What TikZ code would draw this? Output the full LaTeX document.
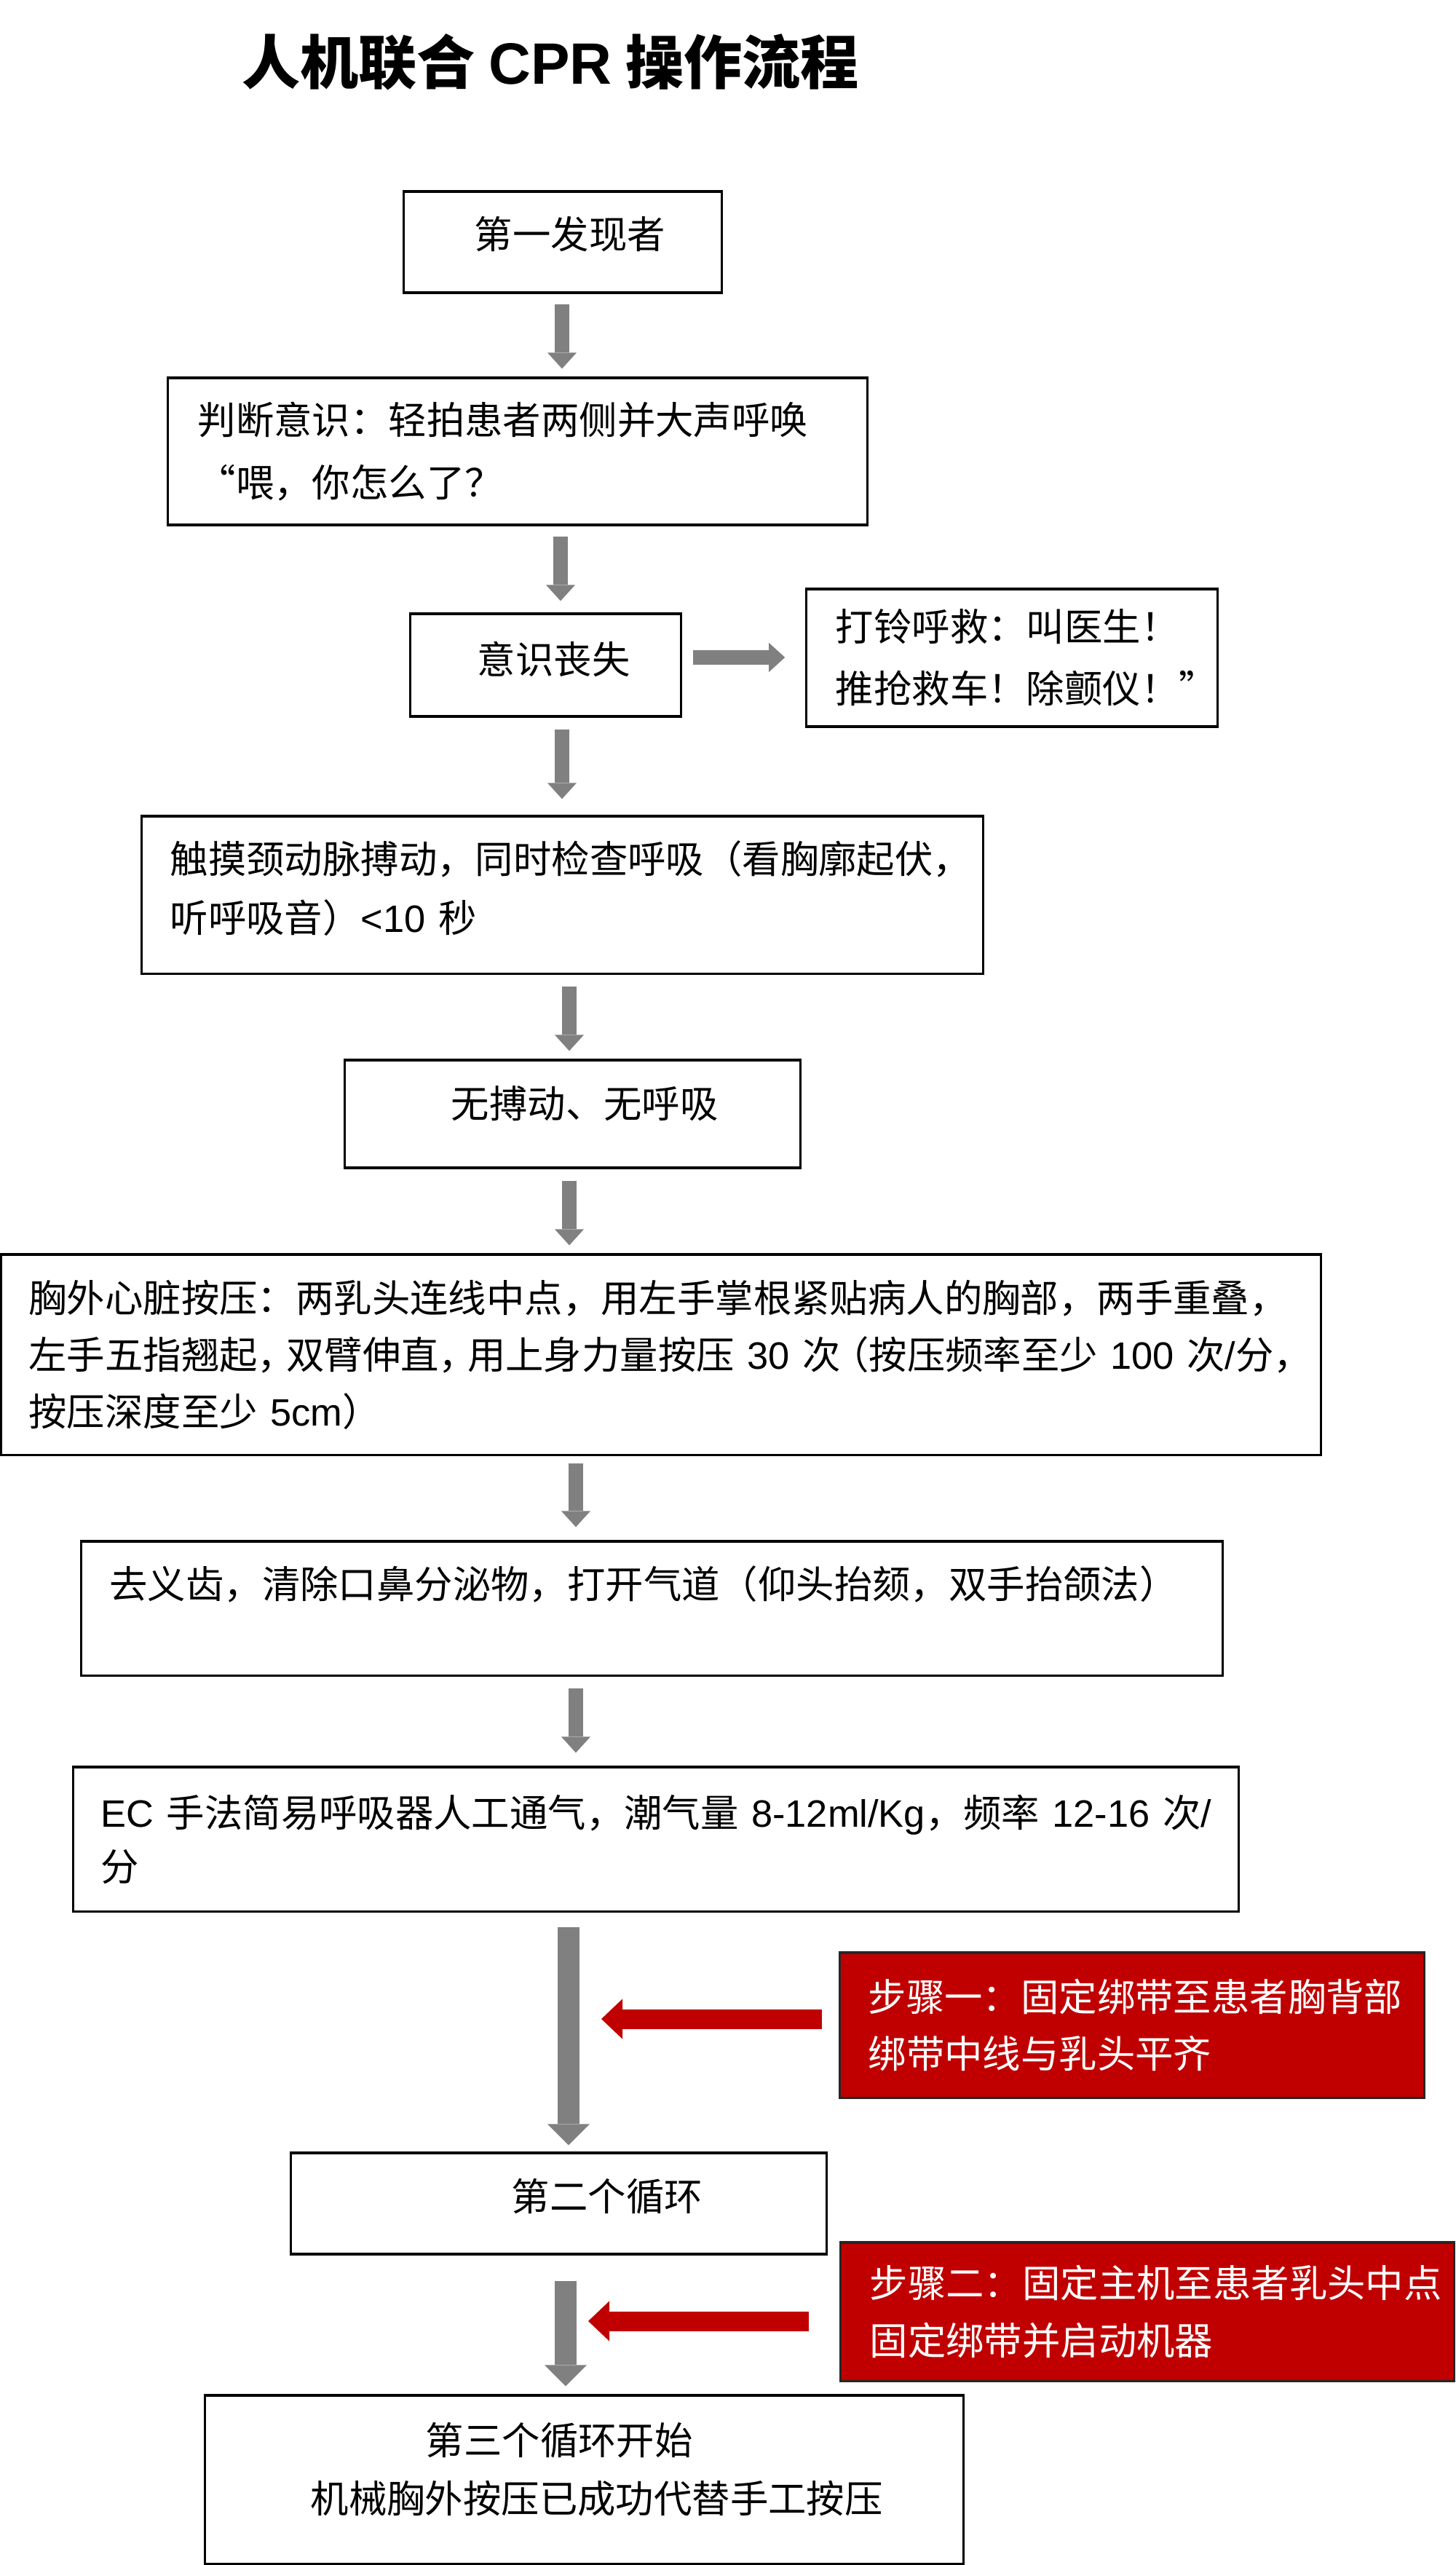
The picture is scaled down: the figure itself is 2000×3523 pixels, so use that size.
\documentclass[tikz,border=0pt]{standalone}
\usepackage{fontspec}
\setmainfont{Noto Sans CJK SC}
\newfontfamily\latf{Liberation Sans}
\usetikzlibrary{arrows.meta}
\definecolor{garr}{HTML}{808080}
\definecolor{rfill}{HTML}{C00000}
\newcommand{\bodyfs}[1]{\fontsize{14.9pt}{#1}\selectfont}
\newcommand{\LatTxt}[1]{\mbox{\latf #1}}
\newcommand{\pk}{\kern-0.25em\relax}
\begin{document}
\begin{tikzpicture}[x=0.01cm, y=-0.01cm,
  box/.style={draw=black, line width=0.9pt, fill=white, align=left, inner ysep=0pt, font=\bodyfs{0.8cm}},
  redbox/.style={box, fill=rfill, draw=black!85, text=white},
  garrow/.style={draw=garr, line width=0.2cm, -{Triangle[width=0.40cm,length=0.22cm,line width=0pt]}},
  gthick/.style={draw=garr, line width=0.29cm, -{Triangle[width=0.58cm,length=0.29cm,line width=0pt]}},
  rarrow/.style={draw=rfill, line width=0.27cm, -{Triangle[width=0.55cm,length=0.29cm,line width=0pt]}}
]
\useasboundingbox (0,0) rectangle (2000,3523);
\fill[white] (0,0) rectangle (2000,3523);

\node[font=\fontsize{22.8pt}{27pt}\selectfont\bfseries] (title) at (756,85) {人机联合 {\latf\bfseries CPR} 操作流程};

\node[box, minimum width=4.36cm, minimum height=1.39cm, inner xsep=0.40cm, text width=3.56cm, text depth=0.26cm]
  (B1) at (773,332.5) {\hspace*{0.57cm}第一发现者};
\node[box, minimum width=9.60cm, minimum height=2.02cm, inner xsep=0.41cm, text width=8.78cm, font=\bodyfs{0.86cm}]
  (B2) at (711,620) {判断意识：轻拍患者两侧并大声呼唤\\“喂，你怎么了？};
\node[box, minimum width=3.71cm, minimum height=1.41cm, inner xsep=0.30cm, text width=3.11cm, text depth=0.20cm]
  (B3) at (749.5,913.5) {\hspace*{0.62cm}意识丧失};
\node[box, minimum width=5.64cm, minimum height=1.89cm, inner xsep=0.40cm, text width=4.84cm, font=\bodyfs{0.85cm}]
  (B4) at (1390,903.5) {打铃呼救：叫医生！\\推抢救车！除颤仪！”};
\node[box, minimum width=11.55cm, minimum height=2.16cm, inner xsep=0.39cm, text width=10.77cm, text depth=1.04cm, font=\bodyfs{0.81cm}]
  (B5) at (772.5,1229) {触摸颈动脉搏动，同时检查呼吸（看胸廓起伏，\\听呼吸音）\LatTxt{<10}~秒};
\node[box, minimum width=6.25cm, minimum height=1.48cm, inner xsep=0.40cm, text width=5.45cm, text depth=0.34cm]
  (B6) at (786.5,1530) {\hspace*{1.06cm}无搏动、无呼吸};
\node[box, minimum width=18.12cm, minimum height=2.75cm, inner xsep=0.38cm, text width=17.36cm, font=\bodyfs{0.78cm}]
  (B7) at (908,1860.5) {胸外心脏按压：两乳头连线中点，用左手掌根紧贴病人的胸部，两手重叠，\\\mbox{左手五指翘起，\pk 双臂伸直，\pk 用上身力量按压~\LatTxt{30}~次\pk（按压频率至少~\LatTxt{100}~次\LatTxt{/}分，}\\按压深度至少~\LatTxt{5cm}）};
\node[box, minimum width=15.67cm, minimum height=1.84cm, inner xsep=0.39cm, text width=14.89cm, text depth=0.72cm]
  (B8) at (895.5,2209) {去义齿，清除口鼻分泌物，打开气道（仰头抬颏，双手抬颌法）};
\node[box, minimum width=16.00cm, minimum height=1.98cm, inner xsep=0.38cm, text width=15.24cm, font=\bodyfs{0.74cm}]
  (B9) at (901,2526) {\LatTxt{EC}~手法简易呼吸器人工通气，潮气量~\LatTxt{8-12ml/Kg}，频率~\LatTxt{12-16}~次\LatTxt{/}\\分};
\node[redbox, minimum width=8.02cm, minimum height=1.99cm, inner xsep=0.39cm, text width=7.24cm, font=\bodyfs{0.78cm}]
  (R1) at (1555,2781.5) {步骤一：固定绑带至患者胸背部\\绑带中线与乳头平齐};
\node[box, minimum width=7.35cm, minimum height=1.39cm, inner xsep=0.40cm, text width=6.55cm, text depth=0.24cm]
  (B10) at (767.5,3026.5) {\hspace*{2.63cm}第二个循环};
\node[redbox, minimum width=8.42cm, minimum height=1.90cm, inner xsep=0.40cm, text width=7.62cm, font=\bodyfs{0.79cm}]
  (R2) at (1576,3175) {步骤二：固定主机至患者乳头中点\\固定绑带并启动机器};
\node[box, minimum width=10.41cm, minimum height=2.31cm, inner xsep=1.00cm, text width=8.41cm, text depth=1.12cm]
  (B11) at (802.5,3405.5) {\hspace*{2.03cm}第三个循环开始\\\hspace*{0.45cm}机械胸外按压已成功代替手工按压};

% arrow columns
\coordinate (ax1) at (772,0);
\coordinate (ax2) at (770,0);
\coordinate (ax4) at (782,0);
\coordinate (ax6) at (791,0);
\coordinate (ax8) at (781,0);
\coordinate (ax9) at (777,0);
\coordinate (r1tip) at (826,2773);
\coordinate (r2tip) at (808,3188);

\draw[garrow, shorten <=0.14cm, shorten >=0.11cm] (B1.south -| ax1) -- (B2.north -| ax1);
\draw[garrow, shorten <=0.14cm, shorten >=0.16cm] (B2.south -| ax2) -- (B3.north -| ax2);
\draw[garrow, shorten <=0.16cm, shorten >=0.22cm] (B3.south -| ax1) -- (B5.north -| ax1);
\draw[garrow, shorten <=0.16cm, shorten >=0.11cm] (B5.south -| ax4) -- (B6.north -| ax4);
\draw[garrow, shorten <=0.16cm, shorten >=0.11cm] (B6.south -| ax4) -- (B7.north -| ax4);
\draw[garrow, shorten <=0.10cm, shorten >=0.18cm] (B7.south -| ax6) -- (B8.north -| ax6);
\draw[garrow, shorten <=0.16cm, shorten >=0.18cm] (B8.south -| ax6) -- (B9.north -| ax6);
\draw[gthick, shorten <=0.20cm, shorten >=0.09cm] (B9.south -| ax8) -- (B10.north -| ax8);
\draw[gthick, shorten <=0.35cm, shorten >=0.11cm] (B10.south -| ax9) -- (B11.north -| ax9);
\draw[garrow, shorten <=0.15cm, shorten >=0.28cm] ([yshift=3]B3.east) -- ([yshift=3]B3.east -| B4.west);

\draw[rarrow, shorten <=0.23cm] (R1.west |- r1tip) -- (r1tip);
\draw[rarrow, shorten <=0.42cm] (R2.west |- r2tip) -- (r2tip);
\end{tikzpicture}
\end{document}
